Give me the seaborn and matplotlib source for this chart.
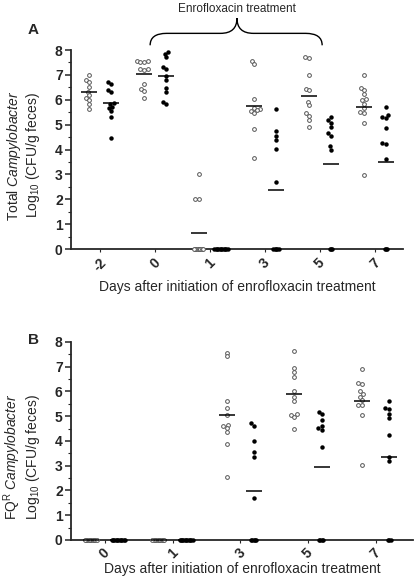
import pandas as pd
import matplotlib
matplotlib.use("Agg")
import matplotlib.pyplot as plt
from matplotlib.path import Path
from matplotlib.patches import PathPatch
from matplotlib.ticker import MultipleLocator
import seaborn as sns

# ---- data (log10 CFU/g feces) ----
days_total = ["-2", "0", "1", "3", "5", "7"]
days_fqr = ["0", "1", "3", "5", "7"]
groups = ["open", "filled"]

total_open = [
    [6.99, 6.81, 6.73, 6.52, 6.32, 6.18, 6.09, 6.01, 5.82, 5.61],
    [7.56, 7.56, 7.52, 7.52, 7.22, 7.22, 7.18, 6.65, 6.45, 6.36, 6.09],
    [3.0, 2.0, 2.0, 0, 0, 0, 0, 0, 0, 0, 0],
    [7.55, 7.42, 6.05, 5.68, 5.62, 5.58, 5.55, 5.48, 4.81, 3.67],
    [7.70, 7.66, 6.99, 6.45, 6.39, 5.92, 5.78, 5.45, 5.34, 5.18, 4.89],
    [6.99, 6.49, 6.41, 6.25, 6.05, 5.98, 5.85, 5.65, 5.51, 5.45, 5.05, 2.97],
]
total_filled = [
    [6.72, 6.65, 6.41, 6.32, 5.89, 5.85, 5.72, 5.65, 5.54, 5.29, 4.47],
    [7.93, 7.86, 7.72, 7.32, 7.22, 6.95, 6.79, 6.48, 6.32, 5.92, 5.85],
    [0, 0, 0, 0, 0, 0, 0, 0, 0, 0, 0],
    [5.62, 4.74, 4.54, 4.38, 4.02, 2.70, 0, 0, 0, 0, 0],
    [5.29, 5.18, 5.07, 4.89, 4.65, 4.54, 4.14, 4.00, 0, 0, 0],
    [5.69, 5.38, 5.29, 5.25, 4.87, 4.27, 4.24, 3.61, 0, 0, 0],
]
fqr_open = [
    [0, 0, 0, 0, 0, 0, 0, 0, 0, 0],
    [0, 0, 0, 0, 0, 0, 0, 0, 0, 0],
    [7.57, 7.42, 5.60, 5.35, 5.04, 4.66, 4.60, 4.53, 4.37, 3.86, 2.53],
    [7.62, 6.96, 6.79, 6.60, 6.03, 5.78, 5.60, 5.10, 5.04, 4.98, 4.48],
    [6.92, 6.35, 6.32, 6.01, 5.90, 5.78, 5.65, 5.47, 5.47, 5.04, 3.01],
]
fqr_filled = [
    [0, 0, 0, 0, 0, 0, 0, 0, 0, 0, 0],
    [0, 0, 0, 0, 0, 0, 0, 0, 0, 0, 0],
    [4.73, 4.62, 4.00, 3.56, 3.37, 1.69, 0, 0, 0, 0, 0],
    [5.19, 5.08, 4.84, 4.61, 4.53, 4.45, 3.76, 0, 0, 0, 0],
    [5.60, 5.33, 5.31, 5.10, 4.91, 4.23, 3.37, 3.19, 0, 0, 0],
]

xlabel_text = "Days after initiation of enrofloxacin treatment"


def long_table(days, open_vals, filled_vals):
    rows = []
    for d, ov, fv in zip(days, open_vals, filled_vals):
        rows += [(d, "open", v) for v in ov]
        rows += [(d, "filled", v) for v in fv]
    return pd.DataFrame(rows, columns=["day", "group", "log_cfu"])


def draw_panel(ax, df, days, ylabel_text, xlim):
    # zeros are packed tighter than the detected values, as in the original
    for part, lay_size in [(df[df.log_cfu > 0], 2.6), (df[df.log_cfu == 0], 0.9)]:
        sns.swarmplot(data=part, x="day", y="log_cfu", hue="group", order=days,
                      hue_order=groups, palette={"open": "white", "filled": "black"},
                      dodge=True, size=lay_size, linewidth=0, legend=False, ax=ax,
                      zorder=3)
    sns.pointplot(data=df, x="day", y="log_cfu", hue="group", order=days,
                  hue_order=groups, palette={"open": "black", "filled": "black"},
                  estimator="mean", errorbar=None, dodge=0.4, markers="_",
                  linestyles="none", markersize=11, markeredgewidth=1.1,
                  legend=False, ax=ax, zorder=4)
    ax.set_ylim(0, 8)
    ax.set_xlim(*xlim)
    ax.yaxis.set_major_locator(MultipleLocator(1))
    ax.yaxis.set_minor_locator(MultipleLocator(0.5))
    ax.tick_params(axis="y", which="major", length=4.5, width=1.1, labelsize=10, pad=1.5)
    ax.tick_params(axis="y", which="minor", length=2, width=0.8)
    ax.tick_params(axis="x", length=2.5, width=0.8, labelsize=10, pad=2)
    for lab in ax.get_yticklabels() + ax.get_xticklabels():
        lab.set_fontweight("bold")
    for lab in ax.get_xticklabels():
        lab.set_rotation(45)
    for side in ["left", "bottom"]:
        ax.spines[side].set_linewidth(1.3)
    sns.despine(ax=ax)
    ax.set_ylabel(ylabel_text, fontsize=10, linespacing=1.05)
    ax.set_xlabel(xlabel_text, fontsize=10)


sns.set_style("ticks")
plt.rcParams["font.family"] = ["Liberation Sans", "DejaVu Sans"]
plt.rcParams["mathtext.fontset"] = "custom"
plt.rcParams["mathtext.rm"] = "Liberation Sans"
plt.rcParams["mathtext.it"] = "Liberation Sans:italic"

fig = plt.figure(figsize=(4.15, 5.81), dpi=100)
ax_a = fig.add_axes([0.171, 0.5714, 0.800, 0.3425])
ax_b = fig.add_axes([0.171, 0.0706, 0.824, 0.3408])

df_total = long_table(days_total, total_open, total_filled)
df_fqr = long_table(days_fqr, fqr_open, fqr_filled)

draw_panel(ax_a, df_total, days_total,
           "Total $\\it{Campylobacter}$\nLog$_{10}$ (CFU/g feces)", (-0.53, 5.51))
draw_panel(ax_b, df_fqr, days_fqr,
           "FQ$^{\\mathrm{R}}$ $\\it{Campylobacter}$\nLog$_{10}$ (CFU/g feces)",
           (-0.50, 4.55))

ax_a.yaxis.set_label_coords(-0.088, 0.47)
ax_b.yaxis.set_label_coords(-0.086, 0.42)
ax_a.xaxis.set_label_coords(0.5, -0.155)
ax_b.xaxis.set_label_coords(0.5, -0.112)

# brace over the treatment period
L, R, tip = 0.91, 4.04, 2.49
yb, yh, yt = 8.19, 8.67, 9.28
verts = [(L, yb), (L, yh), (L + 0.3, yh),
         (tip - 0.3, yh), (tip, yh), (tip, yt),
         (tip, yh), (tip + 0.3, yh),
         (R - 0.3, yh), (R, yh), (R, yb)]
codes = [Path.MOVETO, Path.CURVE3, Path.CURVE3,
         Path.LINETO, Path.CURVE3, Path.CURVE3,
         Path.CURVE3, Path.CURVE3,
         Path.LINETO, Path.CURVE3, Path.CURVE3]
ax_a.add_patch(PathPatch(Path(verts, codes), fill=False, lw=1.0,
                         edgecolor="black", clip_on=False))
fig.text(237 / 415, 1 - 9 / 581, "Enrofloxacin treatment", ha="center",
         va="center", fontsize=8.5)
fig.text(0.08, 1 - 30 / 581, "A", fontsize=11, fontweight="bold",
         ha="center", va="center")
fig.text(0.08, 1 - 340 / 581, "B", fontsize=11, fontweight="bold",
         ha="center", va="center")

# lay out swarms with a compact size, then freeze them and restyle the markers
fig.canvas.draw()
for ax in [ax_a, ax_b]:
    for c in ax.collections:
        c.__dict__.pop("draw", None)
        fc = c.get_facecolor()
        if len(fc) and fc[0][0] > 0.5:
            c.set_facecolor("white")
            c.set_edgecolor("#555555")
            c.set_linewidth(0.7)
            c.set_sizes([2.7 ** 2])
        else:
            c.set_facecolor("black")
            c.set_edgecolor("black")
            c.set_linewidth(0)
            c.set_sizes([3.2 ** 2])
        c.set_clip_on(False)

fig.savefig("out.png", dpi=100)
